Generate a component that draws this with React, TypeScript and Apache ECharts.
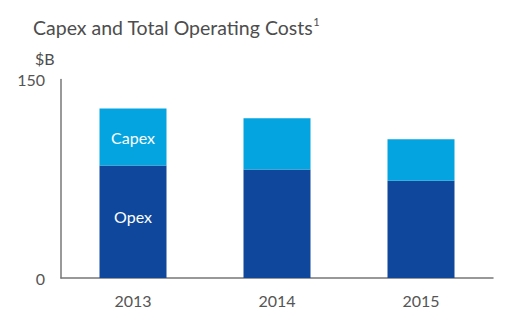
import React, { useEffect, useRef } from "react";
import * as echarts from "echarts";

const categories = ["2013", "2014", "2015"];
const opex = [85, 82, 73.5];
const capex = [43, 38.7, 31.3];
const yTicks = [0, 150];

export default function App() {
  const ref = useRef<HTMLDivElement>(null);
  useEffect(() => {
    if (!ref.current) return;
    const chart = echarts.init(ref.current, null, { renderer: "svg" });
    const font = "Lato";
    chart.setOption({
      animation: false,
      textStyle: { fontFamily: font },
      title: [
        {
          text: "{t|Capex and Total Operating Costs}{s|1}",
          left: 20,
          top: 3,
          textStyle: {
            fontWeight: "normal",
            rich: {
              t: { fontFamily: font, fontSize: 19.5, fontWeight: "normal", color: "#4d4d4d", verticalAlign: "bottom" },
              s: { fontFamily: font, fontSize: 11, fontWeight: "normal", color: "#4d4d4d", verticalAlign: "top", padding: [0, 0, 10, 0] },
            },
          },
        },
        {
          text: "$B",
          left: 22,
          top: 37,
          textStyle: { fontFamily: font, fontSize: 16, fontWeight: "normal", color: "#4d4d4d" },
        },
      ],
      grid: { left: 53, right: 26, top: 71.5, bottom: 35, containLabel: false },
      xAxis: {
        type: "category",
        data: categories,
        axisLine: { lineStyle: { color: "#777", width: 1.5 } },
        axisTick: { show: false },
        axisLabel: { color: "#555", fontSize: 16, fontFamily: font, margin: 14 },
      },
      yAxis: {
        type: "value",
        min: yTicks[0],
        max: yTicks[1],
        interval: yTicks[1] - yTicks[0],
        splitLine: { show: false },
        axisLine: { show: true, lineStyle: { color: "#777", width: 1.5 } },
        axisTick: { show: false },
        axisLabel: { color: "#555", fontSize: 16, fontFamily: font, margin: 16 },
      },
      series: [
        {
          name: "Opex",
          type: "bar",
          stack: "total",
          barWidth: 67,
          itemStyle: { color: "#0e479b" },
          data: opex.map((v, i) => ({
            value: v,
            label: {
              show: i === 0,
              formatter: "Opex",
              position: "inside",
              offset: [0, -5],
              color: "#fff",
              fontSize: 16,
              fontFamily: font,
            },
          })),
        },
        {
          name: "Capex",
          type: "bar",
          stack: "total",
          barWidth: 67,
          itemStyle: { color: "#04a4e0" },
          data: capex.map((v, i) => ({
            value: v,
            label: {
              show: i === 0,
              formatter: "Capex",
              position: "inside",
              color: "#fff",
              fontSize: 16,
              fontFamily: font,
            },
          })),
        },
      ],
    });
    return () => chart.dispose();
  }, []);
  return <div ref={ref} style={{ width: 511, height: 305 }} />;
}
